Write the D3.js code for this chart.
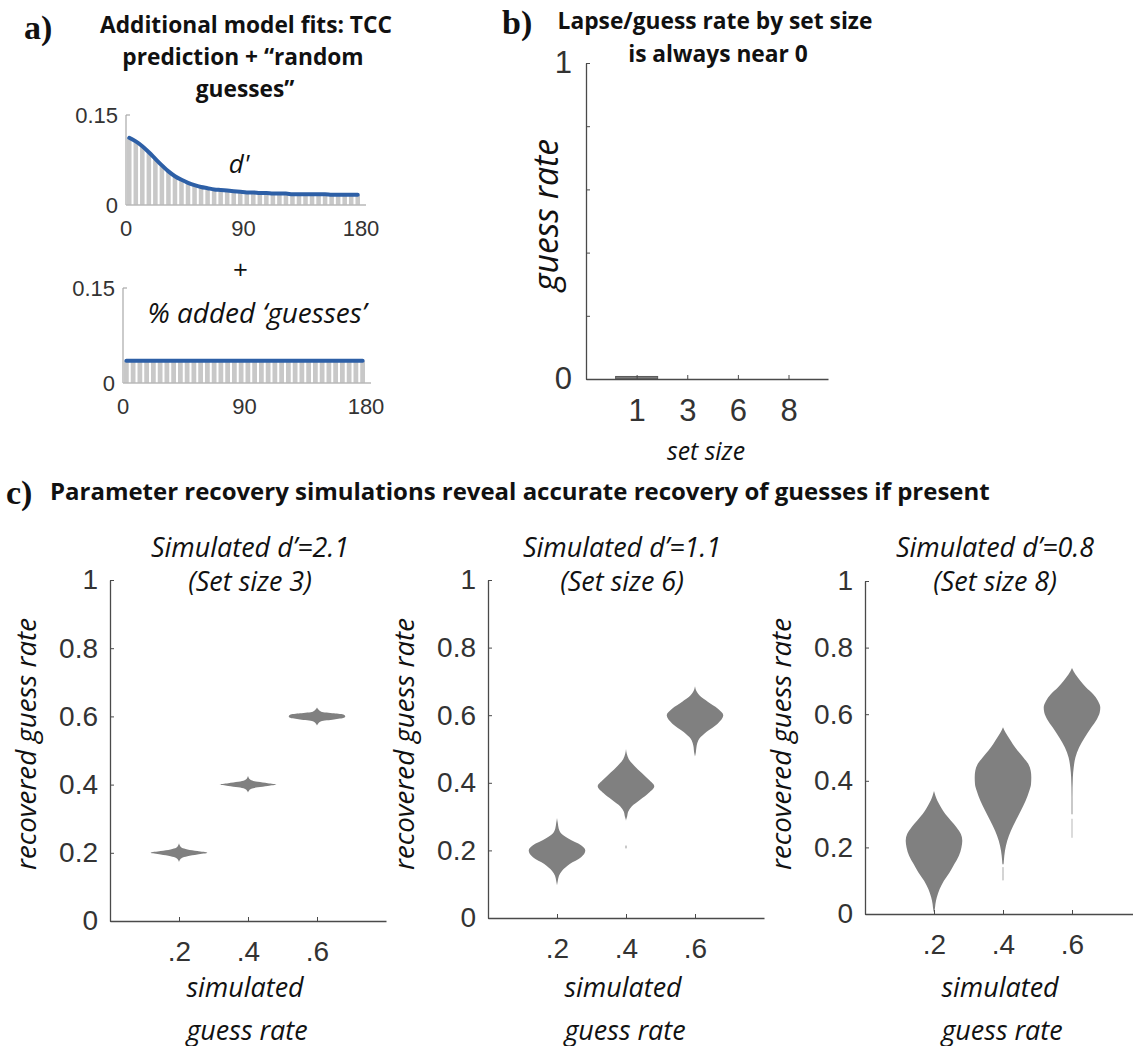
<!DOCTYPE html>
<html><head><meta charset="utf-8">
<script src="https://cdn.jsdelivr.net/npm/d3@7"></script>
<style>body{margin:0;background:#fff}svg{display:block}</style>
</head><body>
<svg id="chart" width="1133" height="1046"></svg>
<script>
// ---------------- DATA ----------------
const angleBins = [2.5,7.5,12.5,17.5,22.5,27.5,32.5,37.5,42.5,47.5,52.5,57.5,62.5,67.5,72.5,77.5,82.5,87.5,92.5,97.5,102.5,107.5,112.5,117.5,122.5,127.5,132.5,137.5,142.5,147.5,152.5,157.5,162.5,167.5,172.5,177.5];
const binWidth = 5;
const dPrimeFit = [0.112,0.106,0.098,0.088,0.077,0.066,0.056,0.048,0.042,0.037,0.033,0.030,0.028,0.026,0.025,0.024,0.023,0.022,0.021,0.021,0.020,0.020,0.019,0.019,0.019,0.018,0.018,0.018,0.018,0.018,0.018,0.017,0.017,0.017,0.017,0.017];
const guessFit = [0.035,0.035,0.035,0.035,0.035,0.035,0.035,0.035,0.035,0.035,0.035,0.035,0.035,0.035,0.035,0.035,0.035,0.035,0.035,0.035,0.035,0.035,0.035,0.035,0.035,0.035,0.035,0.035,0.035,0.035,0.035,0.035,0.035,0.035,0.035,0.035];
const aXTicks = [0, 90, 180];
const aYTicks = [0, 0.15];
const aYTickLabels = ["0", "0.15"];

const setSizes = ["1", "3", "6", "8"];
const guessRateBySetSize = [0.008, 0, 0, 0];
const bYTicks = [0, 0.2, 0.4, 0.6, 0.8, 1];
const bYTickLabels = ["0", "", "", "", "", "1"];

const simGuessRates = [0.2, 0.4, 0.6];
const simTickLabels = [".2", ".4", ".6"];
const cYTicks = [0, 0.2, 0.4, 0.6, 0.8, 1];
const cYTickLabels = ["0", "0.2", "0.4", "0.6", "0.8", "1"];
const cTitles = [["Simulated d\u2019=2.1", "(Set size 3)"], ["Simulated d\u2019=1.1", "(Set size 6)"], ["Simulated d\u2019=0.8", "(Set size 8)"]];

// violin profiles: [recovered guess rate, relative density width]
const violinsD21 = [
  [[0.173,0],[0.18,0.04],[0.185,0.1],[0.19,0.3],[0.195,0.65],[0.2,1],[0.205,0.65],[0.21,0.3],[0.215,0.1],[0.22,0.04],[0.228,0]],
  [[0.377,0],[0.383,0.04],[0.388,0.12],[0.392,0.35],[0.396,0.7],[0.4,1],[0.404,0.7],[0.408,0.35],[0.413,0.12],[0.418,0.04],[0.426,0]],
  [[0.573,0],[0.58,0.05],[0.586,0.15],[0.591,0.6],[0.596,0.95],[0.6,1],[0.605,0.95],[0.609,0.6],[0.614,0.15],[0.62,0.05],[0.626,0]]
];
const violinsD11 = [
  [[0.097,0],[0.11,0.03],[0.125,0.07],[0.14,0.18],[0.16,0.45],[0.18,0.85],[0.2,1.0],[0.215,0.85],[0.235,0.4],[0.25,0.15],[0.265,0.06],[0.28,0.03],[0.296,0]],
  [[0.205,0],[0.207,0.015],[0.213,0.015],[0.215,0],[0.287,0],[0.30,0.04],[0.315,0.08],[0.33,0.2],[0.35,0.5],[0.37,0.8],[0.39,1.0],[0.41,0.8],[0.43,0.55],[0.45,0.3],[0.47,0.1],[0.485,0.03],[0.50,0]],
  [[0.478,0],[0.49,0.03],[0.51,0.06],[0.53,0.15],[0.55,0.4],[0.575,0.8],[0.6,1.0],[0.62,0.8],[0.64,0.45],[0.655,0.2],[0.67,0.06],[0.686,0]]
];
const violinsD08 = [
  [[0.005,0],[0.01,0.02],[0.03,0.05],[0.05,0.1],[0.075,0.2],[0.1,0.35],[0.125,0.55],[0.15,0.72],[0.175,0.88],[0.2,0.97],[0.22,1.0],[0.24,0.95],[0.26,0.8],[0.28,0.6],[0.3,0.4],[0.32,0.25],[0.34,0.12],[0.355,0.05],[0.369,0]],
  [[0.10,0],[0.102,0.012],[0.14,0.012],[0.142,0],[0.148,0],[0.15,0.02],[0.16,0.03],[0.19,0.07],[0.22,0.15],[0.25,0.28],[0.28,0.45],[0.31,0.63],[0.34,0.8],[0.37,0.93],[0.39,0.99],[0.41,1.0],[0.43,0.98],[0.45,0.9],[0.47,0.72],[0.49,0.52],[0.51,0.35],[0.53,0.2],[0.545,0.09],[0.561,0]],
  [[0.228,0],[0.23,0.01],[0.285,0.01],[0.287,0],[0.298,0],[0.30,0.015],[0.35,0.015],[0.41,0.03],[0.44,0.06],[0.47,0.12],[0.5,0.25],[0.53,0.45],[0.56,0.68],[0.585,0.88],[0.605,0.98],[0.62,1.0],[0.64,0.92],[0.66,0.75],[0.68,0.5],[0.7,0.3],[0.72,0.12],[0.739,0]]
];
const allViolins = [violinsD21, violinsD11, violinsD08];

// ---------------- STYLE / LAYOUT ----------------
const NUM = "'Liberation Sans', Arial, sans-serif";
const TXT = "'Open Sans', sans-serif";
const SERIF = "'Liberation Serif', 'DejaVu Serif', serif";
const AXIS_COL = "#4a4a4a";
const TICK_COL = "#333";
const svg = d3.select("#chart");

function label(g, str, x, y, o) {
  o = o || {};
  const t = g.append("text").attr("x", x).attr("y", y)
    .attr("text-anchor", o.anchor || "middle")
    .attr("dominant-baseline", "central")
    .attr("font-family", o.family || TXT)
    .attr("font-size", o.size || 20)
    .attr("font-weight", o.weight || "normal")
    .attr("font-style", o.style || "normal")
    .attr("fill", o.fill || "#111")
    .text(str);
  if (o.fit) {
    const w = t.node().getComputedTextLength();
    if (w > 0) t.attr("font-size", (o.size || 20) * o.fit / w);
  }
  if (o.rotate) t.attr("transform", `rotate(${o.rotate},${x},${y})`);
  return t;
}
function fs(t) { return parseFloat(t.attr("font-size")); }

// ---------------- PANEL A ----------------
const gA = svg.append("g");
label(gA, "a)", 24, 27, {family: SERIF, weight: "bold", size: 34, anchor: "start"});
const tA1 = label(gA, "Additional model fits: TCC", 246, 24, {weight: "bold", size: 20, fit: 292});
const sA = fs(tA1);
label(gA, "prediction + \u201crandom", 243, 56, {weight: "bold", size: sA});
label(gA, "guesses\u201d", 245, 88, {weight: "bold", size: sA});

function miniChart(g, values, xr, yr) {
  const x = d3.scaleLinear().domain([0, 180]).range(xr);
  const y = d3.scaleLinear().domain([0, 0.15]).range(yr);
  const bw = x(binWidth) - x(0);
  g.selectAll("rect.bar").data(values).join("rect").attr("class", "bar")
    .attr("x", (d, i) => x(angleBins[i] - binWidth / 2) + 1)
    .attr("width", bw - 2)
    .attr("y", d => y(d))
    .attr("height", d => y(0) - y(d))
    .attr("fill", "#c8c8c8");
  g.append("line").attr("x1", x(0)).attr("x2", x(0)).attr("y1", y(0.15)).attr("y2", y(0))
    .attr("stroke", "#a8a8a8").attr("stroke-width", 1.2);
  g.append("line").attr("x1", x(0)).attr("x2", x(0) + 4).attr("y1", y(0.15)).attr("y2", y(0.15))
    .attr("stroke", "#a8a8a8").attr("stroke-width", 1.2);
  g.append("line").attr("x1", x(0)).attr("x2", x(180) + 5).attr("y1", y(0)).attr("y2", y(0))
    .attr("stroke", "#b8b8b8").attr("stroke-width", 1.5);
  const line = d3.line().x((d, i) => x(angleBins[i])).y(d => y(d)).curve(d3.curveMonotoneX);
  g.append("path").attr("d", line(values)).attr("fill", "none")
    .attr("stroke", "#2d5fa6").attr("stroke-width", 4).attr("stroke-linecap", "round");
  aYTicks.forEach((v, i) => label(g, aYTickLabels[i], x(0) - 8, y(v), {family: NUM, size: 22, anchor: "end", fill: TICK_COL}));
  aXTicks.forEach(v => label(g, String(v), x(v), y(0) + 23, {family: NUM, size: 22, fill: TICK_COL}));
  return {x, y};
}
miniChart(gA.append("g"), dPrimeFit, [126, 361], [205, 115]);
miniChart(gA.append("g"), guessFit, [123, 366], [383, 288]);
label(gA, "d'", 239, 163, {style: "italic", size: 26});
label(gA, "+", 240, 269, {style: "italic", size: 26});
label(gA, "% added \u2018guesses\u2019", 257, 312, {style: "italic", size: 24, fit: 219});

// ---------------- PANEL B ----------------
const gB = svg.append("g");
label(gB, "b)", 502, 22, {family: SERIF, weight: "bold", size: 34, anchor: "start"});
const tB1 = label(gB, "Lapse/guess rate by set size", 715, 20, {weight: "bold", size: 20, fit: 315});
label(gB, "is always near 0", 718, 53, {weight: "bold", size: fs(tB1)});
const xB = d3.scaleLinear().domain([0, 4.78]).range([586, 828]);
const yB = d3.scaleLinear().domain([0, 1]).range([379, 63]);
const bBarW = 0.83;
gB.selectAll("rect.gb").data(guessRateBySetSize).join("rect").attr("class", "gb")
  .attr("x", (d, i) => xB(i + 1 - bBarW / 2))
  .attr("width", xB(bBarW) - xB(0))
  .attr("y", d => yB(d))
  .attr("height", d => yB(0) - yB(d))
  .attr("fill", "#7a7a7a").attr("stroke", "#5a5a5a").attr("stroke-width", d => d > 0 ? 1 : 0);
const axBy = gB.append("g").attr("transform", `translate(${xB(0)},0)`)
  .call(d3.axisLeft(yB).tickValues(bYTicks).tickSize(-4).tickSizeOuter(0).tickPadding(14)
    .tickFormat((d, i) => bYTickLabels[i]));
const axBx = gB.append("g").attr("transform", `translate(0,${yB(0)})`)
  .call(d3.axisBottom(xB).tickValues([1, 2, 3, 4]).tickSize(-4).tickSizeOuter(0).tickPadding(20)
    .tickFormat((d, i) => setSizes[i]));
[axBy, axBx].forEach(a => {
  a.selectAll("path.domain").attr("stroke", AXIS_COL).attr("stroke-width", 1.3);
  a.selectAll(".tick line").attr("stroke", AXIS_COL);
  a.selectAll("text").attr("font-family", NUM).attr("font-size", 31).attr("fill", TICK_COL);
});
label(gB, "guess rate", 545, 215, {style: "italic", size: 30, fit: 152, rotate: -90});
label(gB, "set size", 706, 450, {style: "italic", size: 20, fit: 78});

// ---------------- PANEL C ----------------
const gC = svg.append("g");
label(gC, "c)", 6, 492, {family: SERIF, weight: "bold", size: 34, anchor: "start"});
label(gC, "Parameter recovery simulations reveal accurate recovery of guesses if present", 50, 490,
  {weight: "bold", size: 20, anchor: "start", fit: 940});

const cLayout = [
  {ax: 110, y0: 921, y1: 580, tx: 250},
  {ax: 488, y0: 918, y1: 580, tx: 622},
  {ax: 865, y0: 914, y1: 581, tx: 995}
];
const halfW = 0.082;
let italicSize = null;
cLayout.forEach((L, k) => {
  const g = gC.append("g");
  const x = d3.scaleLinear().domain([0, 0.8]).range([L.ax, L.ax + 0.8 * 345]);
  const y = d3.scaleLinear().domain([0, 1]).range([L.y0, L.y1]);
  allViolins[k].forEach((prof, i) => {
    const c = simGuessRates[i];
    const area = d3.area().curve(d3.curveMonotoneY)
      .y(d => y(d[0]))
      .x0(d => x(c - d[1] * halfW))
      .x1(d => x(c + d[1] * halfW));
    g.append("path").attr("d", area(prof)).attr("fill", "#808080");
  });
  const ay = g.append("g").attr("transform", `translate(${L.ax},0)`)
    .call(d3.axisLeft(y).tickValues(cYTicks).tickSize(-4).tickSizeOuter(0).tickPadding(12)
      .tickFormat((d, i) => cYTickLabels[i]));
  const axx = g.append("g").attr("transform", `translate(0,${L.y0})`)
    .call(d3.axisBottom(x).tickValues(simGuessRates).tickSize(-4).tickSizeOuter(0).tickPadding(20)
      .tickFormat((d, i) => simTickLabels[i]));
  [ay, axx].forEach(a => {
    a.selectAll("path.domain").attr("stroke", AXIS_COL).attr("stroke-width", 1.3);
    a.selectAll(".tick line").attr("stroke", AXIS_COL);
    a.selectAll("text").attr("font-family", NUM).attr("font-size", 28).attr("fill", TICK_COL);
  });
  if (italicSize === null) {
    const t1 = label(g, cTitles[k][0], L.tx, 546, {style: "italic", size: 24, fit: 198});
    italicSize = fs(t1);
  } else {
    label(g, cTitles[k][0], L.tx, 546, {style: "italic", size: italicSize});
  }
  label(g, cTitles[k][1], L.tx, 580, {style: "italic", size: italicSize});
  label(g, "recovered guess rate", L.ax - 85, 744, {style: "italic", size: italicSize, fit: 252, rotate: -90});
  label(g, "simulated", x(0.4) - 3, 986, {style: "italic", size: italicSize});
  label(g, "guess rate", x(0.4) - 1, 1029, {style: "italic", size: italicSize});
});
</script>
</body></html>
